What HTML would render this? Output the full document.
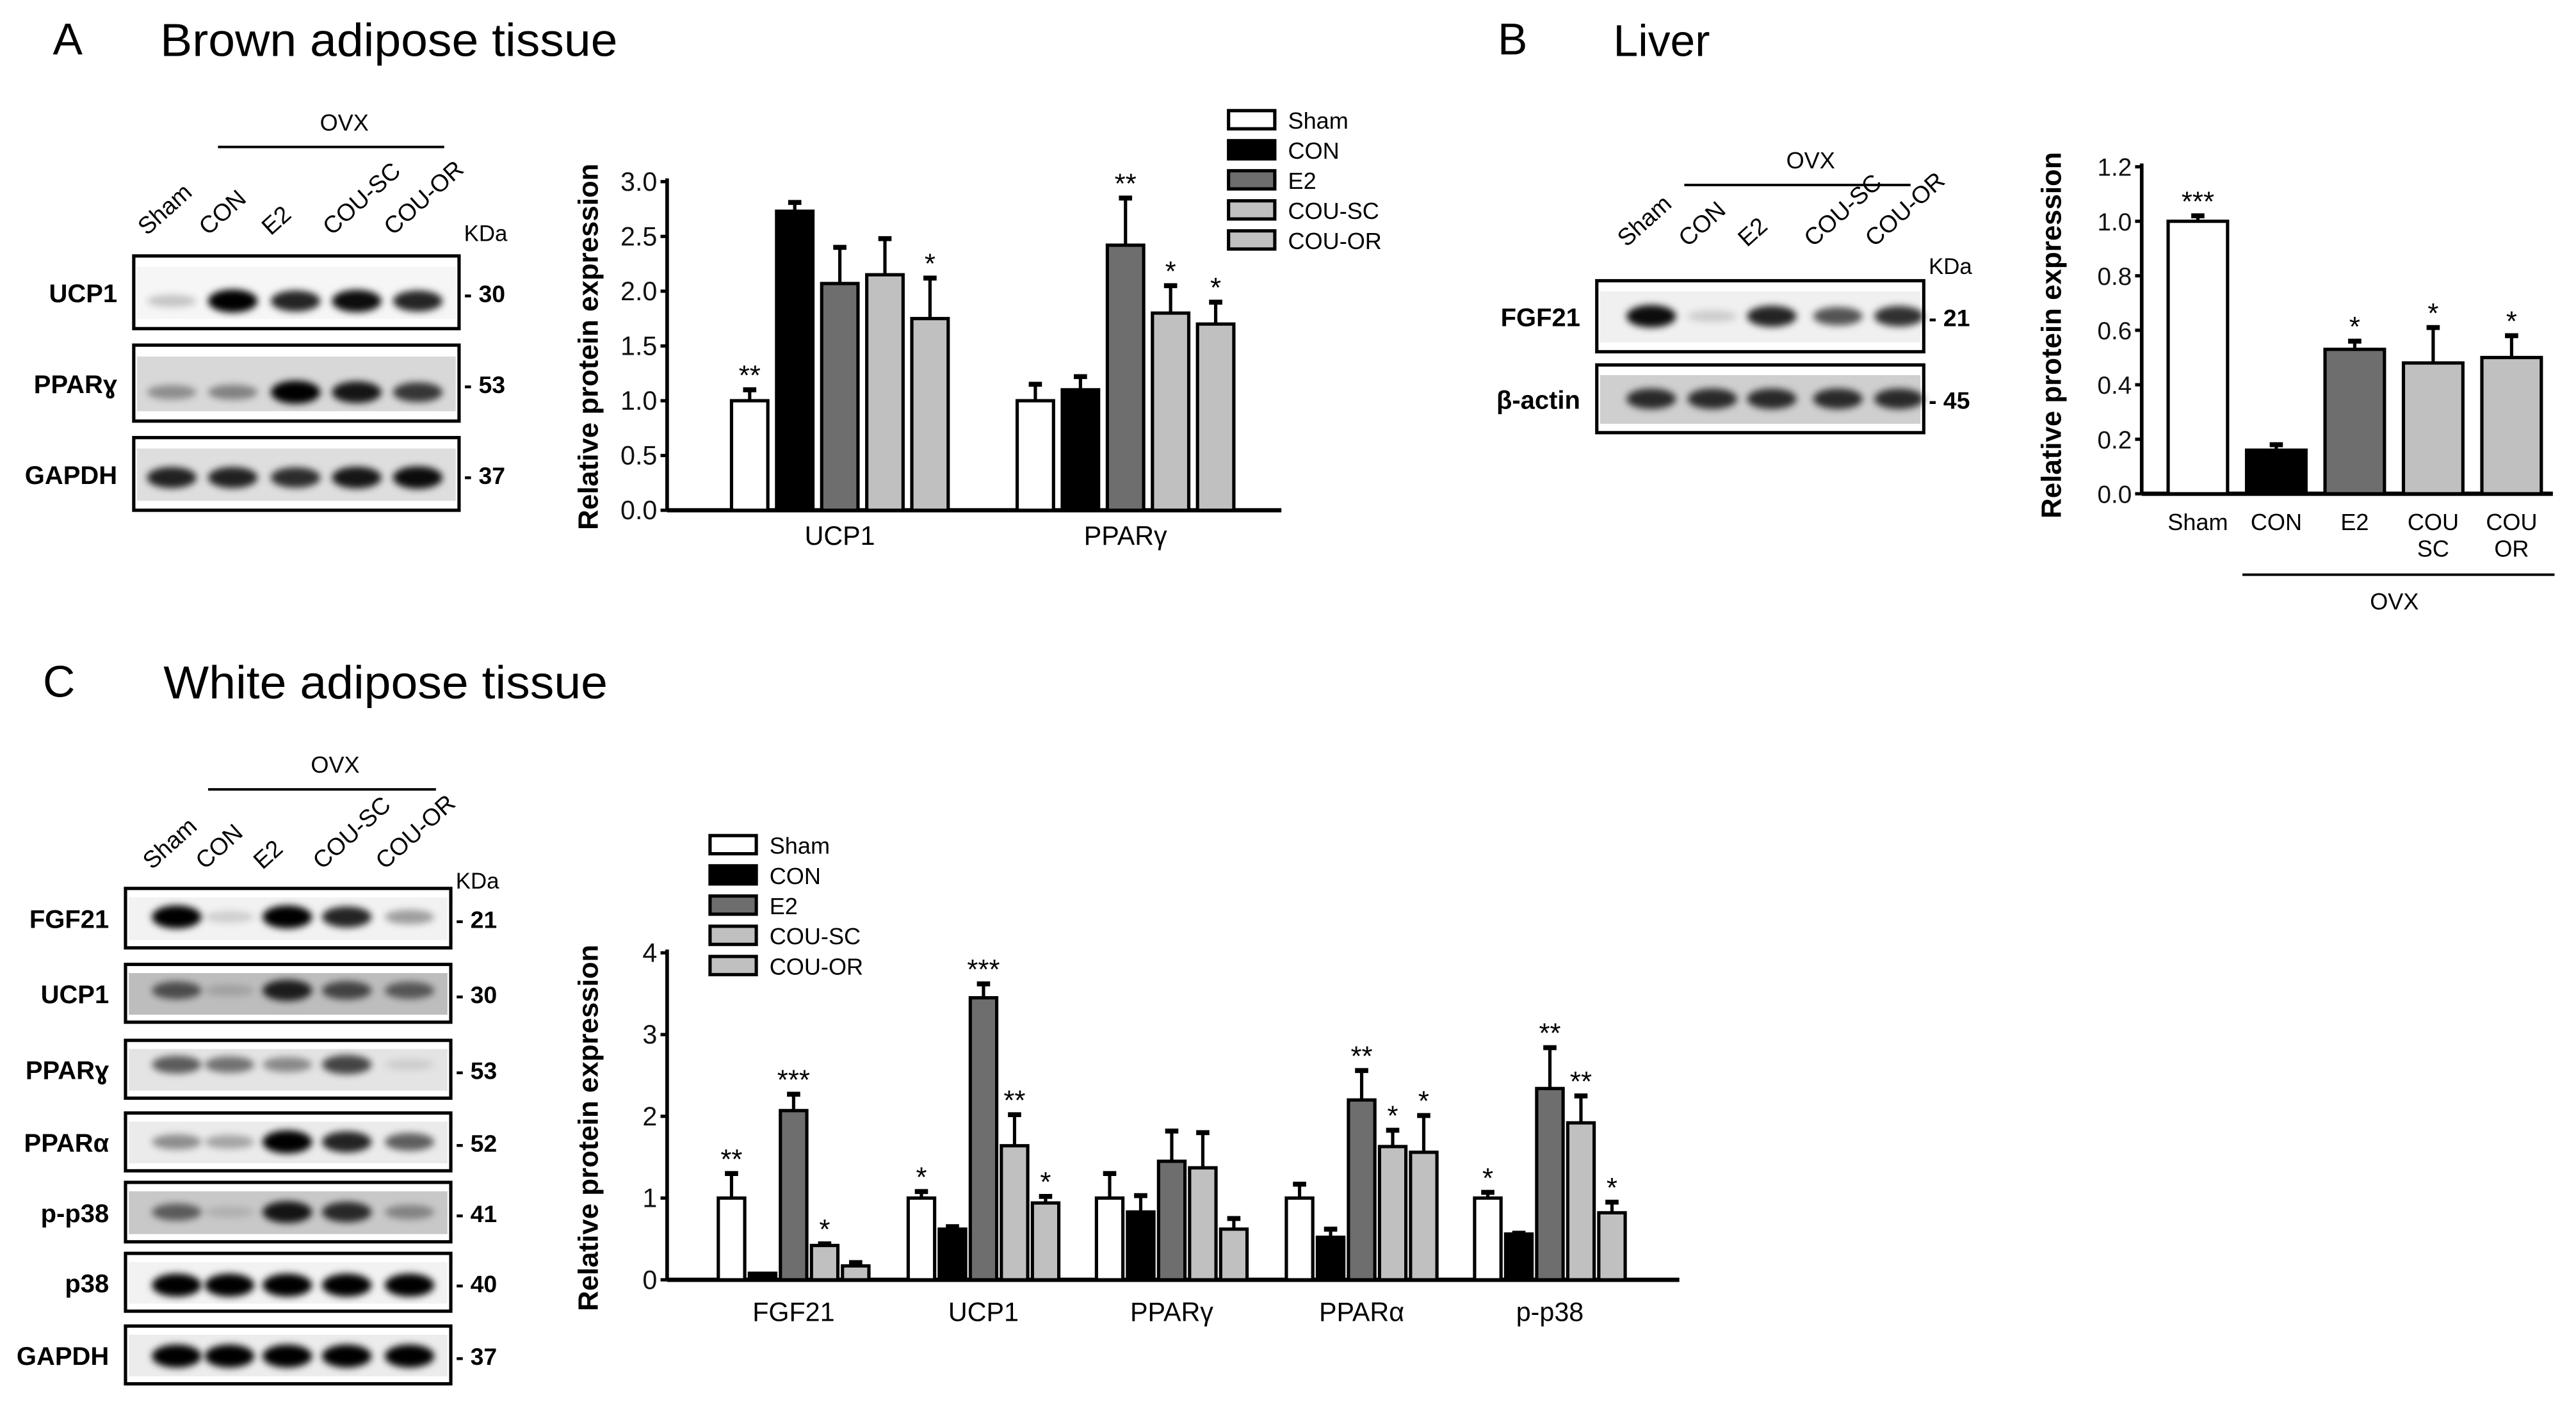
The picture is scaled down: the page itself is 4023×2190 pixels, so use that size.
<!DOCTYPE html>
<html><head><meta charset="utf-8"><style>
html,body{margin:0;padding:0;background:#fff;}
svg{display:block;}
text{font-family:"Liberation Sans",Arial,sans-serif;}
.n{font-family:"Liberation Sans Narrow","Liberation Sans",sans-serif;}
</style></head><body>
<svg id="fig" xmlns="http://www.w3.org/2000/svg" width="4023" height="2190" viewBox="0 0 1560 849" preserveAspectRatio="none">
<defs>
<filter id="blur" x="-50%" y="-100%" width="200%" height="300%"><feGaussianBlur stdDeviation="2.2"/></filter>
</defs>
<rect x="0" y="0" width="1560" height="849" fill="#fff"/>
<text x="32" y="33" font-size="27">A</text>
<text x="97" y="34" font-size="28" textLength="277" lengthAdjust="spacingAndGlyphs">Brown adipose tissue</text>
<text x="907" y="33" font-size="27">B</text>
<text x="977" y="34" font-size="27">Liver</text>
<text x="26" y="422" font-size="27">C</text>
<text x="99" y="423" font-size="28" textLength="269" lengthAdjust="spacingAndGlyphs">White adipose tissue</text>
<g id="blots"></g>
<g id="charts"></g>
</svg>
<script>
// ---------------- Chart data ----------------
const seriesNames = ["Sham","CON","E2","COU-SC","COU-OR"];
const seriesFill = ["#ffffff","#000000","#6e6e6e","#c0c0c0","#c0c0c0"];

const aCats = ["UCP1","PPARγ"];
const aMeans = [[1.0,2.73,2.07,2.15,1.75],[1.0,1.1,2.42,1.8,1.7]];
const aErrs  = [[0.1,0.08,0.33,0.33,0.37],[0.15,0.12,0.43,0.25,0.2]];
const aSig   = [["**","","","","*"],["","","**","*","*"]];
const aTicks = ["0.0","0.5","1.0","1.5","2.0","2.5","3.0"];

const bCats = ["Sham","CON","E2","COU\nSC","COU\nOR"];
const bMeans = [1.0,0.16,0.53,0.48,0.5];
const bErrs  = [0.02,0.02,0.03,0.13,0.08];
const bSig   = ["***","","*","*","*"];
const bTicks = ["0.0","0.2","0.4","0.6","0.8","1.0","1.2"];

const cCats = ["FGF21","UCP1","PPARγ","PPARα","p-p38"];
const cMeans = [[1.0,0.08,2.07,0.42,0.17],[1.0,0.62,3.45,1.64,0.94],[1.0,0.83,1.45,1.37,0.62],[1.0,0.52,2.2,1.63,1.56],[1.0,0.56,2.34,1.92,0.82]];
const cErrs  = [[0.3,0,0.2,0.02,0.04],[0.08,0.03,0.17,0.38,0.08],[0.3,0.2,0.37,0.43,0.13],[0.17,0.1,0.36,0.2,0.45],[0.07,0.01,0.5,0.33,0.13]];
const cSig   = [["**","","***","*",""],["*","","***","**","*"],["","","","",""],["","","**","*","*"],["*","","**","**","*"]];
const cTicks = ["0","1","2","3","4"];

const NS="http://www.w3.org/2000/svg";
function mk(tag,attrs,parent){const e=document.createElementNS(NS,tag);for(const k in attrs)e.setAttribute(k,attrs[k]);parent.appendChild(e);return e;}
const charts=document.getElementById('charts');

function drawChart(g,opt){
  const y=v=>opt.y0-(v-opt.vmin)/(opt.vmax-opt.vmin)*(opt.y0-opt.y1);
  let ax=mk('line',{x1:opt.ax,y1:opt.y1-2,x2:opt.ax,y2:opt.y0,stroke:'#000','stroke-width':2.2},g);
  
  
  let xx=mk('line',{x1:opt.ax,y1:opt.y0,x2:opt.axEnd,y2:opt.y0,stroke:'#000','stroke-width':2.6},g);
  
  
  opt.ticks.forEach(t=>{
    const v=parseFloat(t), ty=y(v);
    const tl=mk('line',{x1:opt.ax-4,y1:ty,x2:opt.ax,y2:ty,stroke:'#000','stroke-width':2},g);
    
    
    const tx=mk('text',{x:opt.ax-6,y:ty+5.5,'font-size':opt.tickFs,'text-anchor':'end',class:'n',fill:'#111'},g);
    tx.textContent=t;
    
    
  });
  const tt=mk('text',{x:0,y:0,'font-size':opt.titleFs,'font-weight':'bold','text-anchor':'middle',transform:`translate(${opt.titleX},${opt.titleY}) rotate(-90)`},g);
  tt.textContent='Relative protein expression';
  
  
  opt.bars.forEach(b=>{
    const top=y(b.v);
    const r=mk('rect',{x:b.x,y:top,width:opt.bw,height:opt.y0-top,fill:seriesFill[b.s],stroke:'#000','stroke-width':2},g);
    
    
    const cx=b.x+opt.bw/2;
    let capY=top;
    if(b.e>0){
      capY=y(b.v+b.e);
      const el=mk('line',{x1:cx,y1:top,x2:cx,y2:capY,stroke:'#000','stroke-width':2},g);
      
      
      const cap=mk('line',{x1:cx-4,y1:capY,x2:cx+4,y2:capY,stroke:'#000','stroke-width':3},g);
      
      
    }
    if(b.sig){
      const st=mk('text',{x:cx,y:capY-3,'font-size':opt.sigFs,'text-anchor':'middle',class:'n'},g);
      st.textContent=b.sig;
      
      
    }
  });
}
function legend(g,x,y0,dy){
  seriesNames.forEach((n,i)=>{
    const r=mk('rect',{x:x,y:y0+i*dy-6,width:28,height:11,fill:seriesFill[i],stroke:'#000','stroke-width':2},g);
    
    
    const t=mk('text',{x:x+36,y:y0+i*dy+5,'font-size':14,class:'n'},g);
    t.textContent=n;
    
    
  });
}

(function(){
  const g=mk('g',{},charts);
  
  
  const bars=[];const gStart=[443,616],pitch=27.3;
  aCats.forEach((c,gi)=>aMeans[gi].forEach((v,si)=>bars.push({x:gStart[gi]+si*pitch,v:v,e:aErrs[gi][si],sig:aSig[gi][si],s:si,name:c+'-'+seriesNames[si]})));
  drawChart(g,{ax:404,axEnd:776,y0:309,y1:110,vmin:0,vmax:3,ticks:aTicks,bw:22,bars:bars,tickFs:16,titleFs:17,titleX:362,titleY:210,sigFs:17});
  aCats.forEach((c,gi)=>{const t=mk('text',{x:gStart[gi]+2*pitch+11,y:330,'font-size':16,'text-anchor':'middle',class:'n'},g);t.textContent=c;
    
    });
  legend(g,744,73,18.2);
})();

(function(){
  const g=mk('g',{},charts);
  
  
  const bars=[];const x0=1313,pitch=47.5;
  bMeans.forEach((v,i)=>bars.push({x:x0+i*pitch,v:v,e:bErrs[i],sig:bSig[i],s:i,name:seriesNames[i]}));
  drawChart(g,{ax:1297,axEnd:1546,y0:299,y1:101,vmin:0,vmax:1.2,ticks:bTicks,bw:36,bars:bars,tickFs:15,titleFs:17,titleX:1248,titleY:203,sigFs:17});
  bCats.forEach((c,i)=>{c.split('\n').forEach((ln,j)=>{const t=mk('text',{x:x0+i*pitch+18,y:321+j*16,'font-size':14,'text-anchor':'middle'},g);t.textContent=ln;
    
    });});
  const l=mk('line',{x1:1358,y1:348,x2:1547,y2:348,stroke:'#000','stroke-width':1.5},g);
  
  
  const t=mk('text',{x:1450,y:369,'font-size':14,'text-anchor':'middle'},g);t.textContent='OVX';
  
  
})();

(function(){
  const g=mk('g',{},charts);
  
  
  const bars=[];const gStart=[435,550,664,779,893],pitch=18.8;
  cCats.forEach((c,gi)=>cMeans[gi].forEach((v,si)=>bars.push({x:gStart[gi]+si*pitch,v:v,e:cErrs[gi][si],sig:cSig[gi][si],s:si,name:c+'-'+seriesNames[si]})));
  drawChart(g,{ax:404,axEnd:1017,y0:775,y1:577,vmin:0,vmax:4,ticks:cTicks,bw:16,bars:bars,tickFs:16,titleFs:17,titleX:362,titleY:683,sigFs:17});
  cCats.forEach((c,gi)=>{const t=mk('text',{x:gStart[gi]+2*pitch+8,y:800,'font-size':16,'text-anchor':'middle',class:'n'},g);t.textContent=c;
    
    });
  legend(g,430,512,18.3);
})();

const blots=document.getElementById('blots');
function blotPanel(cfg){
  const g=mk('g',{},blots);
  
  
  cfg.lanes.forEach((ln,i)=>{
    const t=mk('text',{x:0,y:0,'font-size':14.5,transform:`translate(${cfg.laneX[i]-15},${cfg.laneY}) rotate(-42)`},g);
    t.textContent=ln;
    
    
  });
  const l=mk('line',{x1:cfg.ovx[0],y1:cfg.ovx[2],x2:cfg.ovx[1],y2:cfg.ovx[2],stroke:'#000','stroke-width':1.5},g);
  
  
  const o=mk('text',{x:(cfg.ovx[0]+cfg.ovx[1])/2+8,y:cfg.ovx[2]-10,'font-size':14,'text-anchor':'middle'},g);o.textContent='OVX';
  
  
  const k=mk('text',{x:cfg.kda[0],y:cfg.kda[1],'font-size':13.5},g);k.textContent='KDa';
  
  
  cfg.rows.forEach(r=>{
    const h=r.y1-r.y0, cy=r.y0+h*(r.cy||0.55);
    const bg=mk('rect',{x:cfg.x0+2,y:r.y0+h*0.15,width:cfg.x1-cfg.x0-4,height:h*0.72,fill:r.bg||'#e8e8e8'},g);
    
    
    r.I.forEach((v,i)=>{
      if(v<=0)return;
      const e=mk('ellipse',{cx:cfg.laneX[i],cy:cy,rx:15,ry:3+v*4,fill:`rgba(0,0,0,${Math.min(1,v)})`,filter:'url(#blur)'},g);
      
      
    });
    const box=mk('rect',{x:cfg.x0,y:r.y0,width:cfg.x1-cfg.x0,height:h,fill:'none',stroke:'#000','stroke-width':2},g);
    
    
    const lb=mk('text',{x:cfg.x0-10,y:r.y0+h/2+6,'font-size':15.5,'font-weight':'bold','text-anchor':'end'},g);lb.textContent=r.label;
    
    
    const kd=mk('text',{x:cfg.x1+3,y:r.y0+h/2+6,'font-size':14.5,'font-weight':'bold'},g);kd.textContent='- '+r.kda;
    
    
  });
}
const lanes=["Sham","CON","E2","COU-SC","COU-OR"];
blotPanel({name:'blot-a',lanes:lanes,laneX:[104,141,179,216,253],laneY:143,x0:81,x1:278,ovx:[132,269,89],kda:[281,146],
  rows:[{label:'UCP1',kda:30,y0:155,y1:199,I:[0.2,1,0.85,0.95,0.85],bg:'#f6f6f6',cy:0.62},
        {label:'PPARɣ',kda:53,y0:209,y1:255,I:[0.35,0.4,1,0.9,0.75],bg:'#d8d8d8',cy:0.62},
        {label:'GAPDH',kda:37,y0:265,y1:309,I:[0.85,0.85,0.8,0.9,0.95],bg:'#dedede'}]});
blotPanel({name:'blot-b',lanes:lanes,laneX:[1000,1037,1073,1113,1150],laneY:150,x0:967,x1:1165,ovx:[1020,1157,112],kda:[1168,166],
  rows:[{label:'FGF21',kda:21,y0:170,y1:213,I:[0.95,0.15,0.85,0.65,0.8],bg:'#f0f0f0',cy:0.5},
        {label:'β-actin',kda:45,y0:221,y1:262,I:[0.8,0.8,0.8,0.8,0.8],bg:'#cfcfcf',cy:0.5}]});
blotPanel({name:'blot-c',lanes:lanes,laneX:[107,139,174,210,248],laneY:527,x0:76,x1:273,ovx:[126,264,478],kda:[276,538],
  rows:[{label:'FGF21',kda:21,y0:538,y1:574,I:[1,0.15,1,0.85,0.35],bg:'#f2f2f2',cy:0.48},
        {label:'UCP1',kda:30,y0:584,y1:619,I:[0.6,0.15,0.85,0.65,0.55],bg:'#bdbdbd',cy:0.45},
        {label:'PPARɣ',kda:53,y0:630,y1:665,I:[0.6,0.5,0.4,0.7,0.1],bg:'#e4e4e4',cy:0.42},
        {label:'PPARα',kda:52,y0:674,y1:709,I:[0.4,0.3,1,0.85,0.6],bg:'#ebebeb',cy:0.5},
        {label:'p-p38',kda:41,y0:716,y1:752,I:[0.55,0.12,0.9,0.8,0.35],bg:'#c8c8c8',cy:0.5},
        {label:'p38',kda:40,y0:759,y1:794,I:[1,1,1,1,1],bg:'#f2f2f2',cy:0.55},
        {label:'GAPDH',kda:37,y0:803,y1:838,I:[1,1,1,1,1],bg:'#ececec',cy:0.52}]});
</script>
</body></html>
